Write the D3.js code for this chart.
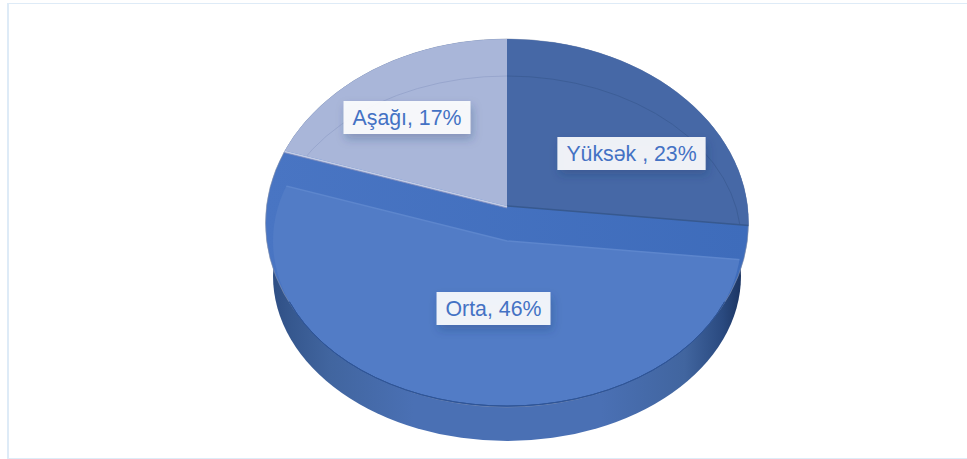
<!DOCTYPE html>
<html>
  <head>
    <meta charset="utf-8">
    <title>Pie</title>
    <style type="text/css">
html, body { margin: 0; padding: 0; background: white; overflow: hidden; }
.label-text { font-family: "Liberation Sans", Arial, sans-serif; font-size: 21.3px; fill: #4472c4; }
    </style>
    <script type="text/javascript" src="https://cdn.jsdelivr.net/npm/d3@7"></script>
  </head>
  <body>
    <div id="chart"></div>
    <script type="text/javascript">
      // Data
      var categories = ["Yüksək ", "Orta", "Aşağı"];
      var percents = [23, 46, 17];

      // Layout
      var w = 967, h = 459;
      var cx = 507;
      var apexY = 206;       // point of the two back slices
      var faceY = 241;       // point of the front slice
      var wallY = 276;       // bottom disc
      var rim = { cy: 223, rx: 241.5, ry: 184 };
      var face = { rx: 234, ry: 165 };
      var tiltRy = 176;      // vertical squash used for the slice angles
      var labelCenters = [[631.5, 153.5], [493.5, 308.5], [407, 117.5]];
      var backFill = ["#4668a6", null, "#a9b6d9"];
      var backLine = ["#3d5e97", null, "#98a6cd"];

      var svg = d3.select("#chart").append("svg")
          .attr("width", w)
          .attr("height", h)
          .style("display", "block");
      var defs = svg.append("defs");

      // side wall shading
      var wallGrad = defs.append("linearGradient").attr("id", "wall");
      [[0, "#2f4f85"], [0.04, "#36588f"], [0.12, "#41659f"], [0.3, "#4a70b4"], [0.7, "#4a70b4"],
       [0.88, "#41659f"], [0.96, "#2a4a80"], [1, "#1c3563"]].forEach(function(s) {
        wallGrad.append("stop").attr("offset", s[0]).attr("stop-color", s[1]);
      });
      var bandGrad = defs.append("linearGradient").attr("id", "band");
      bandGrad.append("stop").attr("offset", 0).attr("stop-color", "#4975c3");
      bandGrad.append("stop").attr("offset", 1).attr("stop-color", "#3e6cbb");

      defs.append("clipPath").attr("id", "rim-clip").append("ellipse")
          .attr("cx", cx).attr("cy", rim.cy).attr("rx", rim.rx).attr("ry", rim.ry);
      defs.append("clipPath").attr("id", "face-clip").append("ellipse")
          .attr("cx", cx).attr("cy", faceY).attr("rx", face.rx).attr("ry", face.ry);

      var shadow = defs.append("filter").attr("id", "soft")
          .attr("x", "-20%").attr("y", "-40%").attr("width", "140%").attr("height", "190%");
      shadow.append("feDropShadow").attr("dx", 2).attr("dy", 5).attr("stdDeviation", 5)
          .attr("flood-color", "#1f3864").attr("flood-opacity", 0.3);

      // slices, clockwise from twelve o'clock
      var pie = d3.pie().sort(null).value(function(d) { return d; });
      var slices = pie(percents);
      var wedge = d3.arc().innerRadius(0);

      function tilted(y0) {
        return "translate(" + cx + "," + y0 + ") scale(" + rim.rx + "," + tiltRy + ")";
      }

      function wedgeOf(s) {
        return wedge({ startAngle: s.startAngle, endAngle: s.endAngle, outerRadius: 1.3 });
      }

      function point(angle, y0) {
        return [cx + Math.sin(angle) * rim.rx * 1.2, y0 - Math.cos(angle) * tiltRy * 1.2];
      }

      // wall and rim
      svg.append("ellipse")
          .attr("cx", cx).attr("cy", wallY).attr("rx", face.rx).attr("ry", face.ry)
          .attr("fill", "url(#wall)");
      svg.append("ellipse")
          .attr("cx", cx).attr("cy", rim.cy).attr("rx", rim.rx).attr("ry", rim.ry)
          .attr("fill", "url(#band)")
          .attr("stroke", "#8791a8").attr("stroke-width", 0.6);

      // back slices, cut by the rim
      var back = svg.append("g").attr("clip-path", "url(#rim-clip)");
      slices.forEach(function(s, i) {
        if (!backFill[i]) return;
        back.append("path")
            .attr("transform", tilted(apexY))
            .attr("d", wedgeOf(s))
            .attr("fill", backFill[i]);

        // the front disc shows through them as a thin line
        var clipId = "slice-clip-" + i;
        defs.append("clipPath").attr("id", clipId).append("path")
            .attr("transform", tilted(apexY))
            .attr("d", wedgeOf(s));
        back.append("g").attr("clip-path", "url(#" + clipId + ")").append("ellipse")
            .attr("cx", cx).attr("cy", faceY).attr("rx", face.rx).attr("ry", face.ry)
            .attr("fill", "none").attr("stroke", backLine[i]).attr("stroke-width", 1);
      });

      // seams along the near edges of the back slices
      var first = slices[0], last = slices[2];
      var seamA = point(first.endAngle, apexY);
      var seamB = point(last.startAngle, apexY);
      back.append("line")
          .attr("x1", cx).attr("y1", apexY).attr("x2", seamA[0]).attr("y2", seamA[1])
          .attr("stroke", "#37598f").attr("stroke-width", 1.5);
      back.append("line")
          .attr("x1", cx).attr("y1", apexY + 1).attr("x2", seamB[0]).attr("y2", seamB[1] + 1)
          .attr("stroke", "#c3cde6").attr("stroke-width", 2);
      back.append("line")
          .attr("x1", cx).attr("y1", apexY + 2).attr("x2", seamB[0]).attr("y2", seamB[1] + 2)
          .attr("stroke", "#7f8cbd").attr("stroke-width", 0.8);

      // front slice, cut by its own disc
      var front = slices[1];
      var frontG = svg.append("g").attr("clip-path", "url(#face-clip)");
      frontG.append("path")
          .attr("transform", tilted(faceY))
          .attr("d", wedgeOf(front))
          .attr("fill", "#527cc6")
          .attr("stroke", "#5d86cd")
          .attr("stroke-width", 1.5)
          .attr("vector-effect", "non-scaling-stroke");

      // darker line where the face meets the wall
      var lip = d3.arc().innerRadius(1).outerRadius(1)
          .startAngle(Math.PI * 0.62).endAngle(Math.PI * 1.38);
      svg.append("path")
          .attr("transform", "translate(" + cx + "," + faceY + ") scale(" + face.rx + "," + face.ry + ")")
          .attr("d", lip())
          .attr("fill", "none")
          .attr("stroke", "#2f5597")
          .attr("stroke-width", 1)
          .attr("vector-effect", "non-scaling-stroke");

      // labels
      var labels = svg.append("g").selectAll("g")
          .data(slices)
          .enter().append("g");
      labels.append("rect").attr("fill", "#ffffff").attr("fill-opacity", 0.9).attr("filter", "url(#soft)");
      labels.append("text")
          .attr("class", "label-text")
          .attr("x", function(d, i) { return labelCenters[i][0]; })
          .attr("y", function(d, i) { return labelCenters[i][1] + 7.5; })
          .attr("text-anchor", "middle")
          .text(function(d, i) { return categories[i] + ", " + percents[i] + "%"; });
      labels.each(function(d, i) {
        var g = d3.select(this);
        var tw = g.select("text").node().getComputedTextLength();
        g.select("rect")
            .attr("x", labelCenters[i][0] - tw / 2 - 9)
            .attr("y", labelCenters[i][1] - 16.5)
            .attr("width", tw + 18)
            .attr("height", 33);
      });

      // frame
      var frame = "#deebf7";
      svg.append("line").attr("x1", 8).attr("y1", 3.5).attr("x2", w).attr("y2", 3.5)
          .attr("stroke", frame).attr("stroke-width", 1);
      svg.append("line").attr("x1", 8).attr("y1", 3).attr("x2", 8).attr("y2", 459)
          .attr("stroke", frame).attr("stroke-width", 2);
      svg.append("line").attr("x1", 8).attr("y1", 458.5).attr("x2", w).attr("y2", 458.5)
          .attr("stroke", frame).attr("stroke-width", 1);
    </script>
  </body>
</html>
